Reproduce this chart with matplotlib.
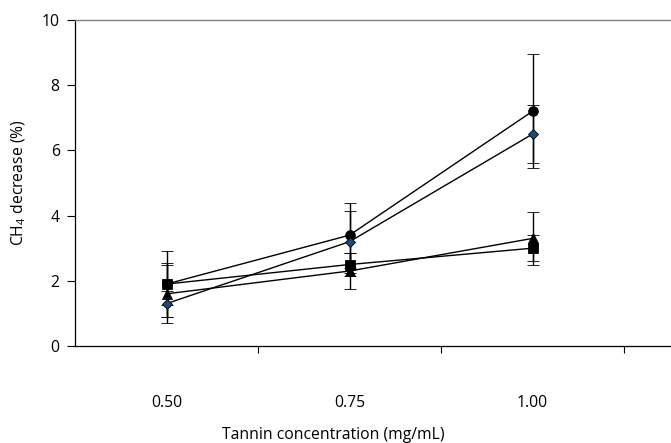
import matplotlib
matplotlib.use("Agg")
import matplotlib.pyplot as plt
import numpy as np

plt.rcParams['font.family'] = ['Open Sans', 'DejaVu Sans']
plt.rcParams['mathtext.fontset'] = 'custom'
plt.rcParams['mathtext.rm'] = 'Open Sans'
plt.rcParams['mathtext.it'] = 'Open Sans:italic'

# Tannin concentrations (categorical x axis)
concentrations = ["0.50", "0.75", "1.00"]

# CH4 decrease (%) per tannin source, with standard deviations
circle_vals = [1.9, 3.4, 7.2]
circle_err = [0.65, 1.0, 1.75]
diamond_vals = [1.3, 3.2, 6.5]
diamond_err = [0.4, 0.95, 0.9]
triangle_vals = [1.6, 2.3, 3.3]
triangle_err = [0.9, 0.55, 0.8]
square_vals = [1.9, 2.5, 3.0]
square_err = [1.0, 0.35, 0.4]

y_ticks = [0, 2, 4, 6, 8, 10]

W, H = 671, 443
fig = plt.figure(figsize=(W / 100, H / 100), dpi=100)
left_px, right_px = 75, 75 + 4 * 183
top_px, bottom_px = 20, 346
ax = fig.add_axes([left_px / W, 1 - bottom_px / H,
                   (right_px - left_px) / W, (bottom_px - top_px) / H])

x = np.arange(len(concentrations))

series = [
    (circle_vals, circle_err, 'o', 'black', 7),
    (square_vals, square_err, 's', 'black', 7.2),
    (triangle_vals, triangle_err, '^', 'black', 7.5),
    (diamond_vals, diamond_err, 'D', '#1c4a7a', 5.5),
]
for vals, err, mk, fc, ms in series:
    ax.errorbar(x, vals, yerr=err, fmt='-', color='black', lw=1.0,
                marker=mk, markersize=ms, markerfacecolor=fc,
                markeredgecolor='black', markeredgewidth=0.6,
                ecolor='black', elinewidth=1.0, capsize=4.2, capthick=1.0,
                zorder=3)

ax.set_xlim(-0.5, 3.5)
ax.set_ylim(0, 10)
ax.set_yticks(y_ticks)
ax.set_yticklabels([str(t) for t in y_ticks])

# Category boundaries carry the ticks; labels sit at the category centres
ax.set_xticks([0.5, 1.5, 2.5, 3.5])
ax.set_xticklabels([])
ax.set_xticks(x, minor=True)
ax.set_xticklabels(concentrations, minor=True)
ax.tick_params(axis='x', which='major', direction='out', length=5, width=0.8)
ax.tick_params(axis='x', which='minor', length=0, pad=35, labelsize=11.3)
ax.tick_params(axis='y', direction='out', length=6, width=0.8, labelsize=11.3, pad=5)

for side in ['left', 'bottom']:
    ax.spines[side].set_linewidth(0.9)
    ax.spines[side].set_color('black')
ax.spines['top'].set_color('#808080')
ax.spines['top'].set_linewidth(1.0)
ax.spines['right'].set_visible(False)

ax.set_ylabel(r"CH$_{4}$ decrease (%)", fontsize=11.3, labelpad=10)
ax.set_xlabel("Tannin concentration (mg/mL)", fontsize=11.3)
ax.xaxis.set_label_coords((333 - left_px) / (right_px - left_px),
                          -(435 - bottom_px) / (bottom_px - top_px))
ax.xaxis.label.set_va('center')

fig.savefig("out.png", dpi=100)
